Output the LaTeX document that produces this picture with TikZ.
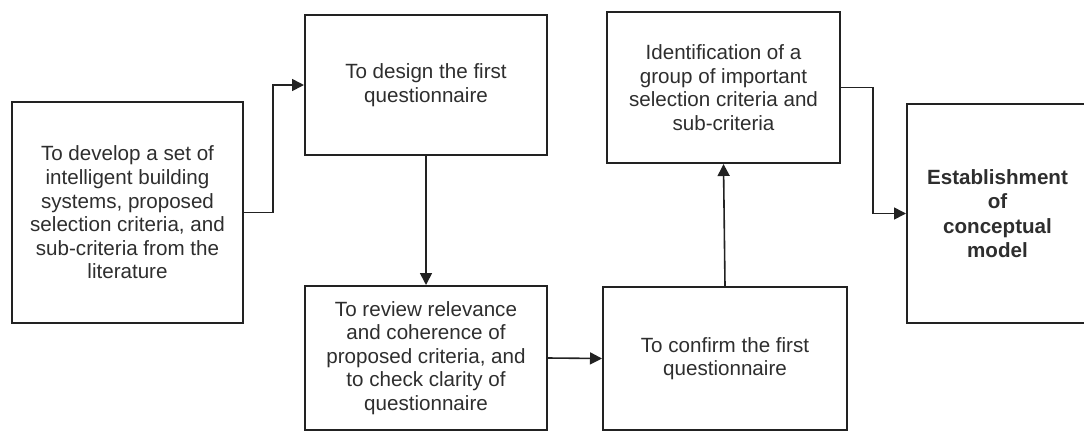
\documentclass[tikz,border=0pt]{standalone}
\usepackage{fontspec}
\setmainfont{Liberation Sans}
\usetikzlibrary{arrows.meta}
\definecolor{inkline}{HTML}{222222}
\definecolor{inktext}{HTML}{2E2E2E}
\begin{document}
\begin{tikzpicture}[x=1pt,y=-1pt,
  box/.style={draw=inkline, line width=2pt, fill=white, inner sep=0pt,
    align=center, text=inktext,
    font=\fontsize{20.6}{23.6}\selectfont},
  arr/.style={draw=inkline, line width=1.6pt,
    -{Triangle[length=12pt,width=12pt]}}]
\useasboundingbox (0,0) rectangle (1084,432);

% process steps
\node[box, minimum width=231pt, minimum height=221pt] (b1) at (127.5,212.5)
  {To develop a set of\\intelligent building\\systems, proposed\\selection criteria, and\\sub-criteria from the\\literature};
\node[box, minimum width=242pt, minimum height=140pt] (b2) at (426,85)
  {To design the first\\questionnaire};
\node[box, minimum width=242pt, minimum height=144pt] (b3) at (426,358)
  {To review relevance\\and coherence of\\proposed criteria, and\\to check clarity of\\questionnaire};
\node[box, minimum width=244pt, minimum height=143pt] (b4) at (725,358.5)
  {To confirm the first\\questionnaire};
\node[box, minimum width=233pt, minimum height=151pt] (b5) at (723.5,87.5)
  {Identification of a\\group of important\\selection criteria and\\sub-criteria};
\node[box, minimum width=181pt, minimum height=219pt,
  font=\fontsize{20.6}{24.4}\selectfont\bfseries] (b6) at (997.5,213.5)
  {Establishment\\of\\conceptual\\model};

% elbow guides
\coordinate (k1) at (273,0);
\coordinate (k2) at (873,0);

% connectors
\draw[arr] (b1.east) -- (b1.east -| k1) |- (b2.west);
\draw[arr] (b2.south) -- (b3.north);
\draw[arr] (b3.east) -- (b4.west);
\draw[arr] (b4.north) -- (b5.south);
\draw[arr] (b5.east) -- (b5.east -| k2) |- (b6.west);
\end{tikzpicture}
\end{document}
